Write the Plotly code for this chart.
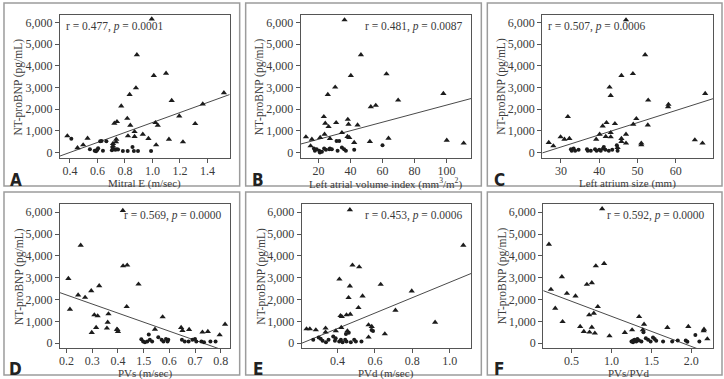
import plotly.graph_objects as go

W, H = 724, 379

# ---------------- data ----------------
a_tri_x = [0.995, 0.887, 1.01, 1.099, 0.88, 0.834, 1.14, 1.52, 1.366, 0.773, 1.195, 0.817, 0.742, 0.723, 0.839, 1.022, 1.039, 1.311, 0.87, 0.93, 0.822, 0.87, 0.971, 1.12, 1.222, 1.027, 0.737, 0.735, 0.713, 0.713, 0.496, 0.455, 0.528, 0.381]
a_tri_y = [6150, 4505, 3543, 3650, 2978, 2672, 2397, 2749, 2230, 2138, 1680, 1573, 1420, 1344, 1252, 1374, 1252, 1328, 962, 840, 763, 733, 641, 611, 489, 351, 611, 489, 412, 305, 351, 214, 657, 763]
a_dot_x = [0.41, 0.545, 0.58, 0.59, 0.595, 0.6, 0.605, 0.62, 0.63, 0.665, 0.64, 0.705, 0.71, 0.72, 0.73, 0.74, 0.75, 0.785, 0.82, 0.855, 0.865, 0.895, 0.99]
a_dot_y = [640, 150, 80, 60, 100, 140, 200, 520, 530, 520, 80, 100, 230, 150, 130, 150, 140, 70, 70, 250, 70, 70, 70]

b_tri_x = [36.25, 46.5, 40.2, 62.5, 30.4, 25.8, 98.1, 69.8, 55.8, 52.7, 23.3, 38.3, 38.75, 24.2, 31.0, 26.25, 44.4, 34.6, 23.75, 38.1, 39.2, 21.0, 27.1, 12.1, 15.8, 42.3, 52.1, 63.75, 100.2, 110.8, 15.0]
b_tri_y = [6108, 4505, 3543, 3619, 3008, 2672, 2718, 2413, 2168, 2107, 1649, 1527, 1298, 1344, 1374, 1191, 1267, 916, 840, 733, 687, 687, 641, 718, 611, 458, 504, 657, 565, 428, 305]
b_dot_x = [17.1, 17.7, 18.8, 20.4, 20.8, 22.1, 23.5, 24.6, 26.7, 27.1, 28.3, 31.9, 34.6, 36.0, 37.1, 42.3, 60.0, 31.25, 32.9]
b_dot_y = [183, 76, 153, 76, 0, 30, 183, 122, 153, 183, 153, 76, 229, 153, 76, 122, 336, 534, 534]

c_tri_x = [47.0, 52.0, 45.8, 48.8, 42.7, 43.0, 52.8, 58.1, 58.0, 67.7, 31.8, 49.7, 40.9, 41.9, 44.1, 48.9, 52.7, 40.1, 43.0, 41.7, 43.0, 26.8, 28.0, 29.9, 30.9, 32.2, 39.2, 45.8, 45.8, 47.0, 47.0, 51.0, 51.0, 65.0, 67.0, 44.8]
c_tri_y = [6108, 4505, 3543, 3634, 3008, 2626, 2413, 2214, 2107, 2718, 1649, 1558, 1222, 1374, 1328, 1298, 1267, 840, 916, 733, 718, 458, 305, 718, 611, 641, 611, 641, 504, 840, 428, 428, 351, 580, 428, 229]
c_dot_x = [32.6, 32.8, 33.3, 33.7, 34.6, 36.8, 37.0, 37.8, 38.9, 39.3, 40.0, 40.4, 41.0, 41.6, 42.5, 43.4, 44.8, 44.6, 41.2]
c_dot_y = [153, 76, 183, 76, 122, 153, 76, 76, 153, 76, 122, 76, 183, 122, 76, 122, 76, 336, 250]

d_tri_x = [0.419, 0.255, 0.436, 0.42, 0.207, 0.327, 0.48, 0.296, 0.245, 0.272, 0.213, 0.434, 0.574, 0.308, 0.321, 0.363, 0.36, 0.315, 0.357, 0.298, 0.396, 0.4, 0.544, 0.646, 0.651, 0.677, 0.75, 0.729, 0.817, 0.796, 0.398]
d_tri_y = [6076, 4481, 3570, 3539, 2962, 2628, 2704, 2400, 2203, 2096, 1549, 1671, 1200, 1291, 1246, 1337, 957, 714, 684, 486, 638, 532, 638, 714, 577, 623, 532, 501, 866, 380, 620]
d_dot_x = [0.491, 0.498, 0.505, 0.514, 0.524, 0.533, 0.557, 0.57, 0.577, 0.587, 0.596, 0.593, 0.649, 0.66, 0.675, 0.69, 0.7, 0.705, 0.725, 0.735, 0.76, 0.78, 0.52]
d_dot_y = [182, 76, 46, 76, 152, 76, 273, 152, 76, 197, 152, 76, 152, 76, 76, 152, 197, 76, 76, 46, 76, 76, 400]

e_tri_x = [0.466, 0.48, 0.516, 1.073, 0.41, 0.466, 0.631, 0.797, 0.459, 0.534, 0.512, 0.71, 0.416, 0.423, 0.448, 0.468, 0.922, 0.566, 0.583, 0.653, 0.566, 0.234, 0.252, 0.284, 0.336, 0.336, 0.391, 0.42, 0.453]
e_tri_y = [6106, 3570, 3494, 4481, 2932, 2613, 2689, 2385, 2081, 2157, 1625, 1504, 1261, 1215, 1291, 1322, 957, 835, 760, 425, 273, 653, 653, 608, 684, 501, 562, 714, 562]
e_dot_x = [0.27, 0.299, 0.31, 0.32, 0.338, 0.352, 0.377, 0.39, 0.386, 0.409, 0.418, 0.427, 0.441, 0.448, 0.471, 0.489, 0.498, 0.528, 0.445, 0.582, 0.59, 0.46]
e_dot_y = [152, 258, 200, 106, 46, 152, 304, 230, 106, 76, 152, 46, 152, 76, 46, 152, 76, 76, 425, 608, 560, 480]

f_tri_x = [0.883, 0.217, 0.908, 0.804, 0.379, 0.692, 0.754, 0.242, 0.442, 0.55, 0.296, 0.829, 0.779, 0.721, 1.346, 0.388, 1.408, 0.608, 0.754, 0.654, 0.725, 0.792, 0.975, 1.167, 1.258, 1.392, 1.7, 1.962, 2.158, 2.154, 2.2]
f_tri_y = [6152, 4527, 3646, 3539, 3038, 2689, 2765, 2461, 2279, 2157, 1595, 1671, 1367, 1291, 1215, 987, 866, 760, 729, 532, 501, 456, 334, 486, 608, 608, 714, 760, 638, 562, 197]
f_dot_x = [1.25, 1.27, 1.29, 1.31, 1.325, 1.345, 1.375, 1.43, 1.458, 1.49, 1.52, 1.54, 1.56, 1.646, 1.76, 1.83, 1.93, 2.05, 2.1, 1.95, 1.4, 1.27]
f_dot_y = [76, 120, 152, 76, 197, 120, 76, 228, 152, 76, 258, 197, 106, 76, 76, 122, 122, 380, 76, 60, 500, 40]

panel_letters = ["A", "B", "C", "D", "E", "F"]
x_titles = ["Mitral E (m/sec)",
            "Left atrial volume index (mm<sup>3</sup>/m<sup>2</sup>)",
            "Left atrium size (mm)",
            "PVs (m/sec)",
            "PVd (m/sec)",
            "PVs/PVd"]
y_title = "NT-proBNP (pg/mL)"
r_vals = ["0.477", "0.481", "0.507", "0.569", "0.453", "0.592"]
p_vals = ["0.0001", "0.0087", "0.0006", "0.0000", "0.0006", "0.0000"]
fit_slope = [2296, 19.67, 56.0, -4144, 3524, -1378]
fit_intercept = [-914, 217, -1426, 3035, -736, 2607]

x_tickvals = [[0.4, 0.6, 0.8, 1.0, 1.2, 1.4],
              [20, 40, 60, 80, 100],
              [30, 40, 50, 60],
              [0.2, 0.3, 0.4, 0.5, 0.6, 0.7, 0.8],
              [0.4, 0.6, 0.8, 1.0],
              [0.5, 1.0, 1.5, 2.0]]
x_ticktext = [["0.4", "0.6", "0.8", "1.0", "1.2", "1.4"],
              ["20", "40", "60", "80", "100"],
              ["30", "40", "50", "60"],
              ["0.2", "0.3", "0.4", "1.5", "0.6", "0.7", "0.8"],
              ["0.4", "0.6", "0.8", "1.0"],
              ["0.5", "1.0", "1.5", "2.0"]]
y_tickvals = [0, 1000, 2000, 3000, 4000, 5000, 6000]
y_ticktext = ["0", "1,000", "2,000", "3,000", "4,000", "5,000", "6,000"]

x_ranges = [[0.327, 1.562], [8.75, 115.6], [25.1, 69.75], [0.174, 0.835], [0.2077, 1.116], [0.146, 2.271]]
y_ranges = [[-260, 6340]] * 3 + [[-228, 6378]] * 3

tri_x = [a_tri_x, b_tri_x, c_tri_x, d_tri_x, e_tri_x, f_tri_x]
tri_y = [a_tri_y, b_tri_y, c_tri_y, d_tri_y, e_tri_y, f_tri_y]
dot_x = [a_dot_x, b_dot_x, c_dot_x, d_dot_x, e_dot_x, f_dot_x]
dot_y = [a_dot_y, b_dot_y, c_dot_y, d_dot_y, e_dot_y, f_dot_y]

# ---------------- layout geometry (pixels) ----------------
plot_left = [59, 300, 542, 59, 301, 543]
plot_right = [229, 471, 713, 229, 471, 713]
plot_top = [15, 15, 15, 205, 205, 205]
plot_bottom = [159, 159, 159, 350, 350, 350]
frames = [(3, 3, 239, 187), (245, 3, 481, 187), (487, 3, 722, 187),
          (3, 193, 239, 377), (245, 193, 481, 377), (487, 193, 722, 377)]
stat_left_aligned = [True, False, True, False, False, False]


def px(x):
    return x / W


def py(y):
    return 1 - y / H


SERIF = "Liberation Serif, Times New Roman, serif"
TXT = "#3a3a3a"
AX = "#555555"
MK = "#1c1c1c"

fig = go.Figure()
layout = dict(
    width=W, height=H, margin=dict(l=0, r=0, t=0, b=0),
    paper_bgcolor="white", plot_bgcolor="white", showlegend=False,
    font=dict(family=SERIF, color=TXT, size=12),
)
annotations = []
shapes = []

for i in range(6):
    n = "" if i == 0 else str(i + 1)
    xa, ya = "x" + n, "y" + n
    lx = x_ranges[i]
    ly = [fit_slope[i] * v + fit_intercept[i] for v in lx]
    fig.add_trace(go.Scatter(x=lx, y=ly, mode="lines", xaxis=xa, yaxis=ya,
                             line=dict(color="#4a4a4a", width=1), hoverinfo="skip"))
    fig.add_trace(go.Scatter(x=dot_x[i], y=dot_y[i], mode="markers", xaxis=xa, yaxis=ya,
                             marker=dict(symbol="circle", size=4, color=MK)))
    fig.add_trace(go.Scatter(x=tri_x[i], y=tri_y[i], mode="markers", xaxis=xa, yaxis=ya,
                             marker=dict(symbol="triangle-up", size=5.5, color=MK)))

    axcommon = dict(showline=True, mirror=True, linecolor=AX, linewidth=1,
                    ticks="outside", ticklen=4, tickcolor=AX, tickwidth=1,
                    showgrid=False, zeroline=False,
                    tickfont=dict(family=SERIF, size=12, color=TXT))
    layout["xaxis" + n] = dict(axcommon, domain=[px(plot_left[i]), px(plot_right[i])],
                               range=x_ranges[i], anchor=ya, ticklabelstandoff=-3,
                               tickvals=x_tickvals[i], ticktext=x_ticktext[i])
    layout["yaxis" + n] = dict(axcommon, domain=[py(plot_bottom[i]), py(plot_top[i])],
                               range=y_ranges[i], anchor=xa,
                               tickvals=y_tickvals, ticktext=y_ticktext)

    fl, ft, fr, fb = frames[i]
    shapes.append(dict(type="rect", xref="paper", yref="paper",
                       x0=px(fl), x1=px(fr), y0=py(fb), y1=py(ft),
                       line=dict(color="#9c9c9c", width=1.5)))

    annotations.append(dict(xref="paper", yref="paper",
                            x=px((plot_left[i] + plot_right[i]) / 2), y=py(plot_bottom[i] + 25),
                            text=x_titles[i], showarrow=False, xanchor="center", yanchor="middle",
                            font=dict(family=SERIF, size=11, color=TXT)))
    annotations.append(dict(xref="paper", yref="paper",
                            x=px(plot_left[i] - 41), y=py((plot_top[i] + plot_bottom[i]) / 2),
                            text=y_title, textangle=-90, showarrow=False,
                            xanchor="center", yanchor="middle",
                            font=dict(family=SERIF, size=11.5, color=TXT)))
    annotations.append(dict(xref="paper", yref="paper",
                            x=px(fl + 12), y=py(fb - 6),
                            text="<b>" + panel_letters[i] + "</b>", showarrow=False,
                            xanchor="center", yanchor="middle",
                            font=dict(family="Liberation Sans Narrow, DejaVu Sans Condensed, Arial Narrow, sans-serif",
                                      size=17, color="#222222")))
    stat = "r = " + r_vals[i] + ", <i>p</i> = " + p_vals[i]
    if stat_left_aligned[i]:
        sx, anchor = plot_left[i] + 4, "left"
    else:
        sx, anchor = plot_right[i] - 6, "right"
    annotations.append(dict(xref="paper", yref="paper", x=px(sx), y=py(plot_top[i] + 11.5),
                            text=stat, showarrow=False, xanchor=anchor, yanchor="middle",
                            font=dict(family=SERIF, size=11.5, color=TXT)))

layout["annotations"] = annotations
layout["shapes"] = shapes
fig.update_layout(**layout)
fig.write_html("out.html")
